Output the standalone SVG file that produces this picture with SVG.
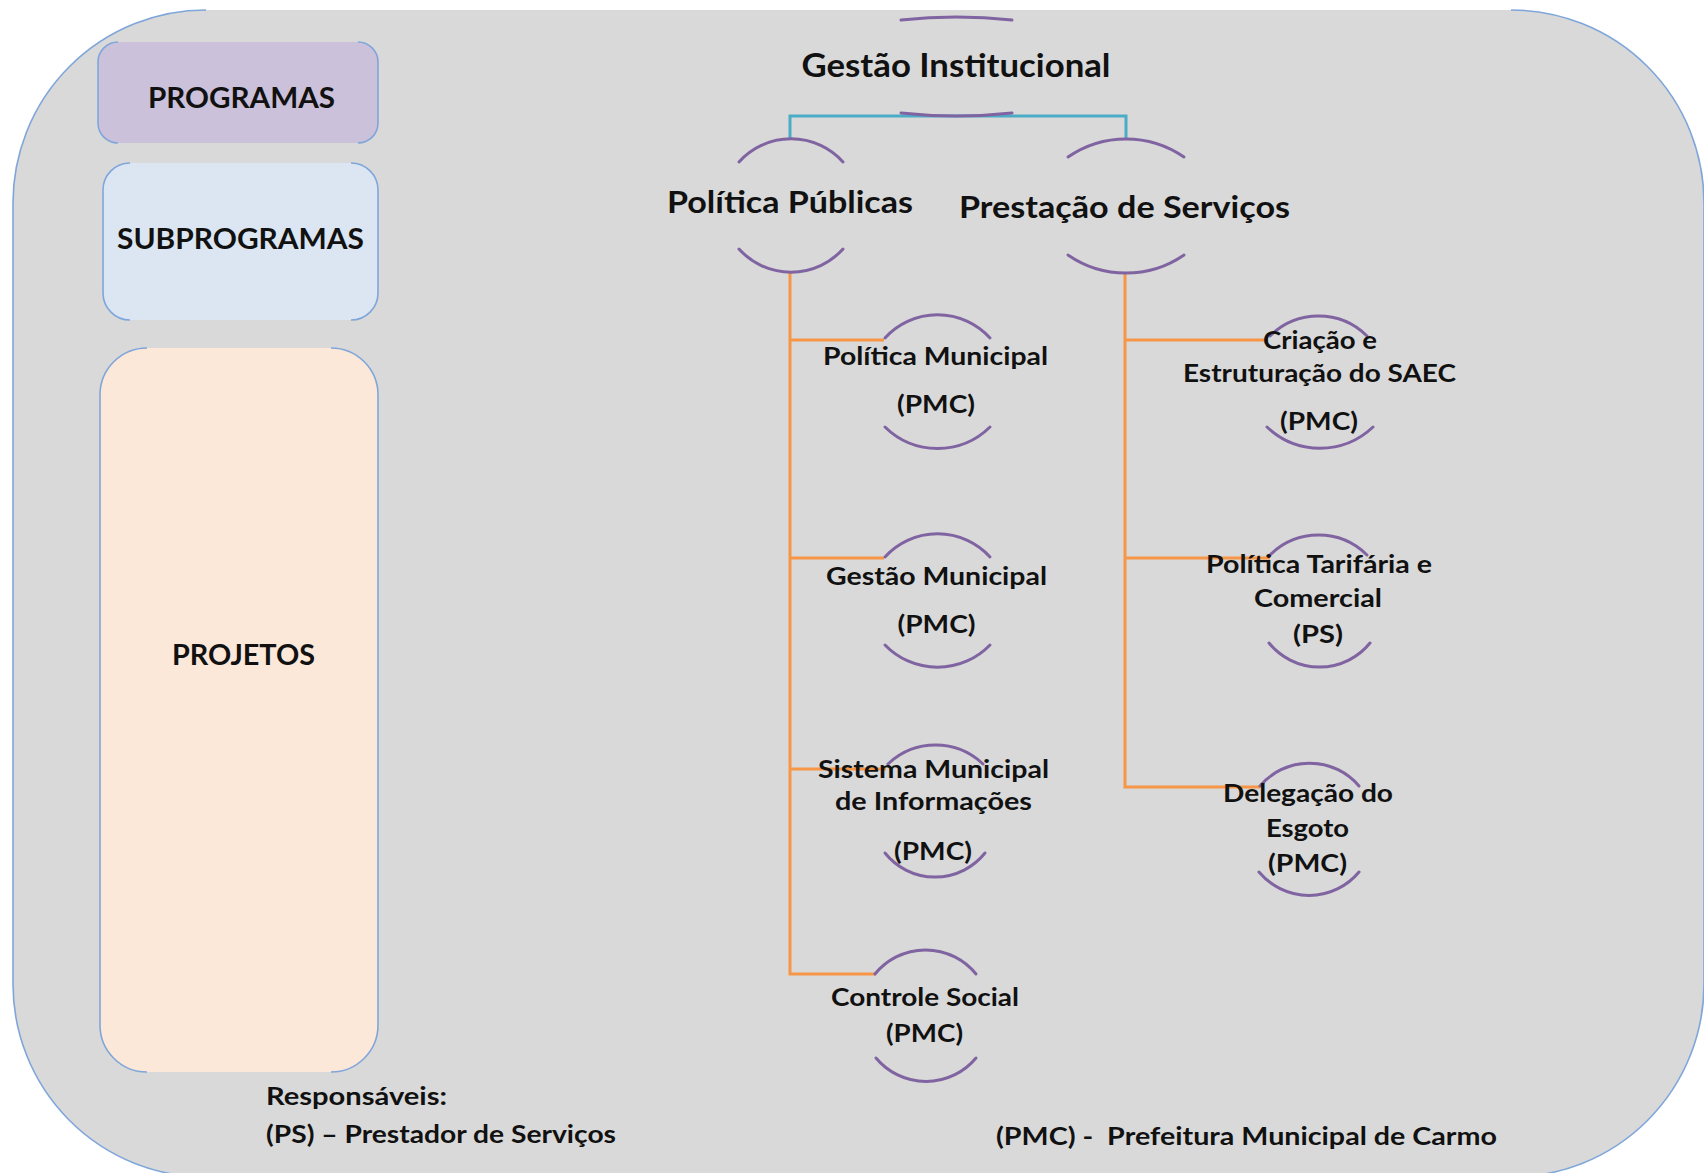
<svg xmlns="http://www.w3.org/2000/svg" width="1704" height="1173" viewBox="0 0 1704 1173">
<style>
text{font-family:Lato,"Liberation Sans",sans-serif;font-weight:bold;fill:#111;}
.h1{font-size:32px;}
.h2{font-size:30px;}
.box{font-size:29px;}
.n{font-size:24px;}
.leg{font-size:25px;white-space:pre;}
.arc{fill:none;stroke:#8064a2;stroke-width:3;stroke-linecap:round;}
.org{fill:none;stroke:#f79646;stroke-width:3;}
.teal{fill:none;stroke:#4bacc6;stroke-width:3;}
.edge{fill:none;stroke:#7fa6da;stroke-width:1.6;}
</style>
<rect x="0" y="0" width="1704" height="1173" fill="#ffffff"/>
<g id="background">
<rect x="13" y="10" width="1691" height="1167" rx="193" ry="193" fill="#d9d9d9"/>
<path class="edge" d="M206 10 A193 193 0 0 0 13 203 V984 A193 193 0 0 0 206 1177"/>
<path class="edge" d="M1511 10 A193 193 0 0 1 1704 203 V984 A193 193 0 0 1 1511 1177"/>
</g>
<g id="box-programas">
<rect x="98" y="42" width="280" height="101" rx="20" fill="#ccc1da"/>
<path class="edge" d="M118 42 A20 20 0 0 0 98 62 V123 A20 20 0 0 0 118 143 M358 42 A20 20 0 0 1 378 62 V123 A20 20 0 0 1 358 143"/>
<text class="box" x="241.5" y="108" text-anchor="middle" textLength="187" lengthAdjust="spacingAndGlyphs">PROGRAMAS</text>
</g>
<g id="box-subprogramas">
<rect x="103" y="163" width="275" height="157" rx="27" fill="#dce6f2"/>
<path class="edge" d="M130 163 A27 27 0 0 0 103 190 V293 A27 27 0 0 0 130 320 M351 163 A27 27 0 0 1 378 190 V293 A27 27 0 0 1 351 320"/>
<text class="box" x="240.5" y="249" text-anchor="middle" textLength="247" lengthAdjust="spacingAndGlyphs">SUBPROGRAMAS</text>
</g>
<g id="box-projetos">
<rect x="100" y="348" width="278" height="724" rx="47" fill="#fce8d9"/>
<path class="edge" d="M147 348 A47 47 0 0 0 100 395 V1025 A47 47 0 0 0 147 1072 M331 348 A47 47 0 0 1 378 395 V1025 A47 47 0 0 1 331 1072"/>
<text class="box" x="243.5" y="665" text-anchor="middle" textLength="143" lengthAdjust="spacingAndGlyphs">PROJETOS</text>
</g>
<g id="connectors">
<path class="teal" d="M790 138 V116 H1126 V138"/>
<path class="org" d="M790 273 V974 H876 M790 340 H884 M790 558 H884 M790 769 H886"/>
<path class="org" d="M1125 273 V787 H1260 M1125 340 H1268 M1125 558 H1270"/>
</g>
<g id="node-gestao-institucional">
<path class="arc" d="M901 20 A515 515 0 0 1 1012 20"/>
<path class="arc" d="M901 113 A515 515 0 0 0 1012 113"/>
<text class="h1" x="956" y="77" text-anchor="middle" textLength="309" lengthAdjust="spacingAndGlyphs">Gestão Institucional</text>
</g>
<g id="node-politica-publicas">
<path class="arc" d="M739 162 A70 70 0 0 1 843 162"/>
<path class="arc" d="M739 249 A70 70 0 0 0 843 249"/>
<text class="h2" x="790" y="213" text-anchor="middle" textLength="246" lengthAdjust="spacingAndGlyphs">Política Públicas</text>
</g>
<g id="node-prestacao-servicos">
<path class="arc" d="M1068 157 A102 102 0 0 1 1184 157"/>
<path class="arc" d="M1068 255 A102 102 0 0 0 1184 255"/>
<text class="h2" x="1124.5" y="218" text-anchor="middle" textLength="331" lengthAdjust="spacingAndGlyphs">Prestação de Serviços</text>
</g>
<g id="node-politica-municipal">
<path class="arc" d="M885 338 A71 71 0 0 1 990 338"/>
<path class="arc" d="M885 427 A75 75 0 0 0 990 427"/>
<text class="n" x="935.5" y="365" text-anchor="middle" textLength="225" lengthAdjust="spacingAndGlyphs">Política Municipal</text>
<text class="n" x="936" y="413" text-anchor="middle" textLength="78" lengthAdjust="spacingAndGlyphs">(PMC)</text>
</g>
<g id="node-gestao-municipal">
<path class="arc" d="M885 557 A71 71 0 0 1 990 557"/>
<path class="arc" d="M885 645 A73 73 0 0 0 990 645"/>
<text class="n" x="936.5" y="585" text-anchor="middle" textLength="221" lengthAdjust="spacingAndGlyphs">Gestão Municipal</text>
<text class="n" x="936.5" y="633" text-anchor="middle" textLength="78" lengthAdjust="spacingAndGlyphs">(PMC)</text>
</g>
<g id="node-sistema-municipal">
<path class="arc" d="M888 764 A69 69 0 0 1 983 764"/>
<path class="arc" d="M885 853 A64 64 0 0 0 985 853"/>
<text class="n" x="933.5" y="778" text-anchor="middle" textLength="231" lengthAdjust="spacingAndGlyphs">Sistema Municipal</text>
<text class="n" x="933.5" y="810" text-anchor="middle" textLength="197" lengthAdjust="spacingAndGlyphs">de Informações</text>
<text class="n" x="933" y="860" text-anchor="middle" textLength="78" lengthAdjust="spacingAndGlyphs">(PMC)</text>
</g>
<g id="node-controle-social">
<path class="arc" d="M875 974 A65 65 0 0 1 976 974"/>
<path class="arc" d="M876 1058 A65 65 0 0 0 976 1058"/>
<text class="n" x="925" y="1006" text-anchor="middle" textLength="188" lengthAdjust="spacingAndGlyphs">Controle Social</text>
<text class="n" x="924.5" y="1042" text-anchor="middle" textLength="77" lengthAdjust="spacingAndGlyphs">(PMC)</text>
</g>
<g id="node-criacao-saec">
<path class="arc" d="M1270 336 A69 69 0 0 1 1367 336"/>
<path class="arc" d="M1267 427 A77 77 0 0 0 1373 427"/>
<text class="n" x="1320" y="349" text-anchor="middle" textLength="114" lengthAdjust="spacingAndGlyphs">Criação e</text>
<text class="n" x="1319.5" y="382" text-anchor="middle" textLength="273" lengthAdjust="spacingAndGlyphs">Estruturação do SAEC</text>
<text class="n" x="1319" y="430" text-anchor="middle" textLength="78" lengthAdjust="spacingAndGlyphs">(PMC)</text>
</g>
<g id="node-politica-tarifaria">
<path class="arc" d="M1270 555 A69 69 0 0 1 1367 555"/>
<path class="arc" d="M1269 643 A65 65 0 0 0 1370 643"/>
<text class="n" x="1319" y="573" text-anchor="middle" textLength="226" lengthAdjust="spacingAndGlyphs">Política Tarifária e</text>
<text class="n" x="1318" y="607" text-anchor="middle" textLength="128" lengthAdjust="spacingAndGlyphs">Comercial</text>
<text class="n" x="1318" y="643" text-anchor="middle" textLength="50" lengthAdjust="spacingAndGlyphs">(PS)</text>
</g>
<g id="node-delegacao-esgoto">
<path class="arc" d="M1260 786 A65 65 0 0 1 1359 786"/>
<path class="arc" d="M1259 872 A65 65 0 0 0 1359 872"/>
<text class="n" x="1308" y="802" text-anchor="middle" textLength="170" lengthAdjust="spacingAndGlyphs">Delegação do</text>
<text class="n" x="1307.5" y="837" text-anchor="middle" textLength="83" lengthAdjust="spacingAndGlyphs">Esgoto</text>
<text class="n" x="1307.5" y="872" text-anchor="middle" textLength="79" lengthAdjust="spacingAndGlyphs">(PMC)</text>
</g>
<g id="legend">
<text class="leg" x="266" y="1105" textLength="181" lengthAdjust="spacingAndGlyphs">Responsáveis:</text>
<text class="leg" x="266" y="1143" textLength="350" lengthAdjust="spacingAndGlyphs">(PS) – Prestador de Serviços</text>
<text class="leg" x="996" y="1145" textLength="501" lengthAdjust="spacingAndGlyphs">(PMC) -  Prefeitura Municipal de Carmo</text>
</g>
</svg>
